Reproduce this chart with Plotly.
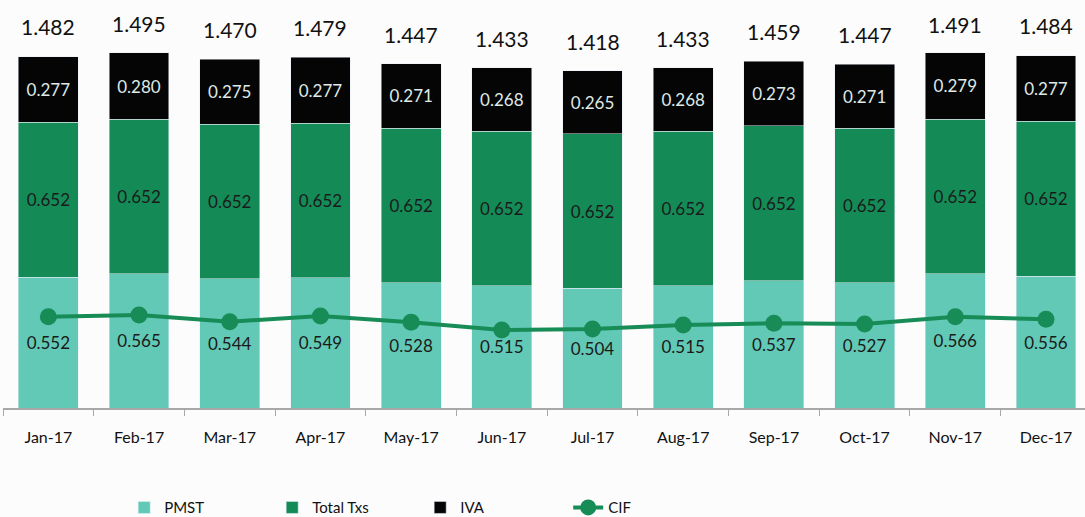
import plotly.graph_objects as go

months = ["Jan-17", "Feb-17", "Mar-17", "Apr-17", "May-17", "Jun-17",
          "Jul-17", "Aug-17", "Sep-17", "Oct-17", "Nov-17", "Dec-17"]
pmst = [0.552, 0.565, 0.544, 0.549, 0.528, 0.515, 0.504, 0.515, 0.537, 0.527, 0.566, 0.556]
total_txs = [0.652] * 12
iva = [0.277, 0.280, 0.275, 0.277, 0.271, 0.268, 0.265, 0.268, 0.273, 0.271, 0.279, 0.277]
totals = [1.482, 1.495, 1.470, 1.479, 1.447, 1.433, 1.418, 1.433, 1.459, 1.447, 1.491, 1.484]
cif = [0.385, 0.392, 0.364, 0.388, 0.362, 0.329, 0.333, 0.350, 0.357, 0.354, 0.385, 0.374]

FONT = "Lato"
C_PMST = "#62c9b6"
C_TX = "#148b57"
C_IVA = "#050505"
C_CIF = "#178c56"

fig = go.Figure()
fig.add_bar(x=months, y=pmst, name="PMST", marker_color=C_PMST,
            text=[f"{v:.3f}" for v in pmst], textposition="inside",
            insidetextanchor="middle",
            textfont=dict(family=FONT, size=17, color="#1a1a1a"))
fig.add_bar(x=months, y=total_txs, name="Total Txs", marker_color=C_TX,
            text=[f"{v:.3f}" for v in total_txs], textposition="inside",
            insidetextanchor="middle",
            textfont=dict(family=FONT, size=17, color="#1a1a1a"))
fig.add_bar(x=months, y=iva, name="IVA", marker_color=C_IVA,
            text=[f"{v:.3f}" for v in iva], textposition="inside",
            insidetextanchor="middle",
            textfont=dict(family=FONT, size=17, color="#dfe9e5"))
fig.add_scatter(x=months, y=cif, name="CIF", mode="lines+markers",
                line=dict(color=C_CIF, width=4),
                marker=dict(color=C_CIF, size=17))

for m, t in zip(months, totals):
    fig.add_annotation(x=m, y=t, text=f"{t:.3f}", showarrow=False,
                       yanchor="middle", yshift=30,
                       font=dict(family=FONT, size=21, color="#111111"))

fig.update_layout(
    width=1085, height=517,
    barmode="stack", bargap=0.34,
    margin=dict(l=3, r=0, t=0, b=109, autoexpand=False),
    plot_bgcolor="#fcfcfc", paper_bgcolor="#fcfcfc",
    showlegend=True,
    legend=dict(orientation="h", x=0.112, xanchor="left",
                yref="container", y=0.018, yanchor="middle",
                entrywidth=103, entrywidthmode="pixels",
                font=dict(family=FONT, size=15, color="#111111"),
                traceorder="normal"),
)
fig.update_xaxes(type="category", range=[-0.5, 11.43], showgrid=False,
                 showline=True, linecolor="#a8a8a8", linewidth=2,
                 ticks="outside", tickson="boundaries", ticklen=6, tickcolor="#a8a8a8",
                 ticklabelstandoff=14, automargin=False,
                 tickfont=dict(family=FONT, size=16, color="#111111"))
fig.update_yaxes(range=[0, 1.72], showgrid=False, showticklabels=False,
                 zeroline=False, showline=False, automargin=False)

fig.write_html("out.html")
